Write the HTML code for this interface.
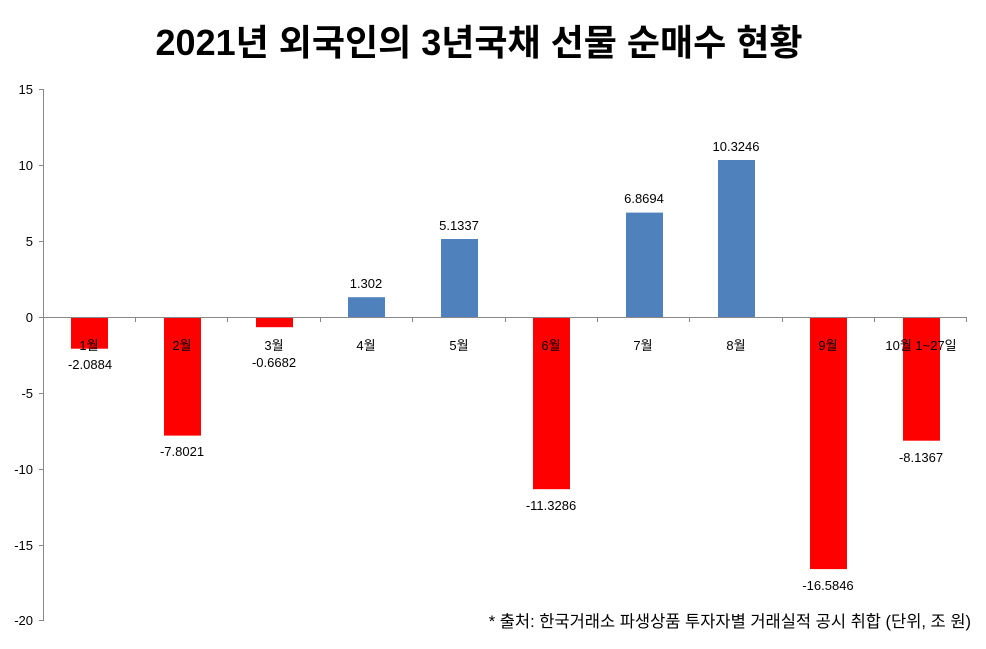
<!DOCTYPE html>
<html><head><meta charset="utf-8"><style>
body{margin:0;background:#fff}
svg{display:block}
text{font-family:"Liberation Sans","Noto Sans CJK KR",sans-serif;fill:#000}
</style></head><body>
<svg width="986" height="649" viewBox="0 0 986 649">
<text x="479" y="55" font-size="36" font-weight="bold" text-anchor="middle">2021년 외국인의 3년국채 선물 순매수 현황</text>
<g stroke="#888" stroke-width="1">
<line x1="43.5" y1="89" x2="43.5" y2="621"/>
<line x1="39" y1="89.5" x2="43" y2="89.5"/>
<line x1="39" y1="165.5" x2="43" y2="165.5"/>
<line x1="39" y1="241.5" x2="43" y2="241.5"/>
<line x1="39" y1="317.5" x2="43" y2="317.5"/>
<line x1="39" y1="393.5" x2="43" y2="393.5"/>
<line x1="39" y1="469.5" x2="43" y2="469.5"/>
<line x1="39" y1="545.5" x2="43" y2="545.5"/>
<line x1="39" y1="620.5" x2="43" y2="620.5"/>
</g>
<g font-size="13" text-anchor="end">
<text x="33" y="94">15</text><text x="33" y="170">10</text><text x="33" y="246">5</text><text x="33" y="322">0</text>
<text x="33" y="398">-5</text><text x="33" y="474">-10</text><text x="33" y="550">-15</text><text x="33" y="625">-20</text>
</g>
<g fill="#ff0000">
<rect x="71" y="317" width="37" height="31.7"/>
<rect x="164" y="317" width="37" height="118.6"/>
<rect x="256" y="317" width="37" height="10.2"/>
<rect x="533" y="317" width="37" height="172.2"/>
<rect x="810" y="317" width="37" height="252.1"/>
<rect x="903" y="317" width="37" height="123.7"/>
</g>
<g fill="#4f81bd">
<rect x="348" y="297.2" width="37" height="19.8"/>
<rect x="441" y="239" width="37" height="78"/>
<rect x="626" y="212.6" width="37" height="104.4"/>
<rect x="718" y="160" width="37" height="157"/>
</g>
<g stroke="#888" stroke-width="1">
<line x1="43" y1="317.5" x2="967" y2="317.5"/>
<line x1="135.5" y1="317" x2="135.5" y2="322"/><line x1="227.5" y1="317" x2="227.5" y2="322"/>
<line x1="320.5" y1="317" x2="320.5" y2="322"/><line x1="412.5" y1="317" x2="412.5" y2="322"/>
<line x1="505.5" y1="317" x2="505.5" y2="322"/><line x1="597.5" y1="317" x2="597.5" y2="322"/>
<line x1="689.5" y1="317" x2="689.5" y2="322"/><line x1="782.5" y1="317" x2="782.5" y2="322"/>
<line x1="874.5" y1="317" x2="874.5" y2="322"/><line x1="966.5" y1="317" x2="966.5" y2="322"/>
</g>
<g font-size="13" text-anchor="middle">
<text x="89" y="350">1월</text><text x="182" y="350">2월</text><text x="274" y="350">3월</text>
<text x="366" y="350">4월</text><text x="459" y="350">5월</text><text x="551" y="350">6월</text>
<text x="643" y="350">7월</text><text x="736" y="350">8월</text><text x="828" y="350">9월</text>
<text x="921" y="350">10월 1~27일</text>
<text x="90" y="369">-2.0884</text><text x="182" y="456">-7.8021</text><text x="274" y="367">-0.6682</text>
<text x="366" y="288">1.302</text><text x="459" y="230">5.1337</text><text x="551" y="510">-11.3286</text>
<text x="644" y="203">6.8694</text><text x="736" y="151">10.3246</text><text x="828" y="590">-16.5846</text>
<text x="921" y="462">-8.1367</text>
</g>
<text x="971" y="627" font-size="16.5" text-anchor="end">* 출처: 한국거래소 파생상품 투자자별 거래실적 공시 취합 (단위, 조 원)</text>
</svg>
</body></html>
